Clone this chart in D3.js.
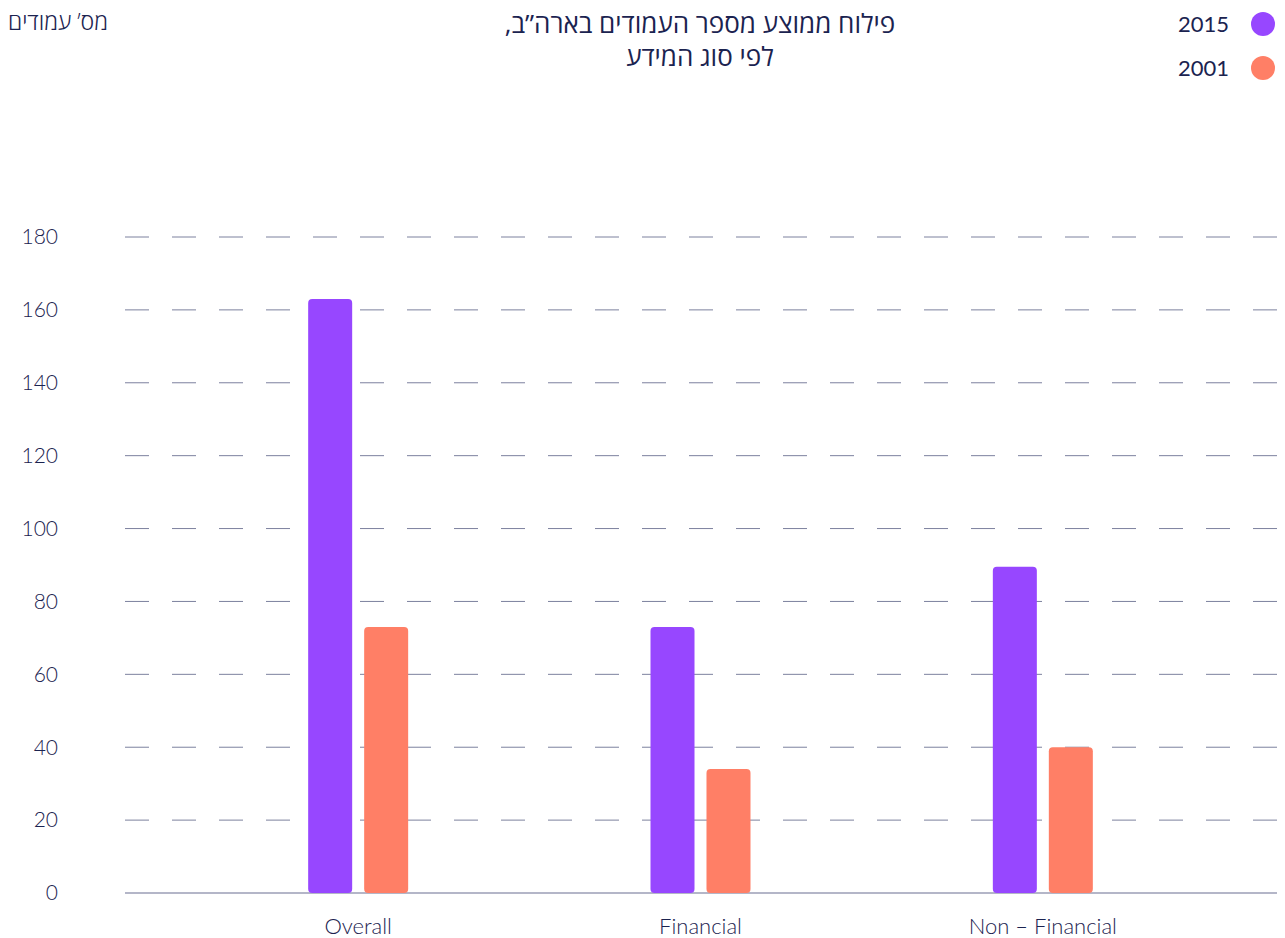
<!DOCTYPE html>
<html>
<head>
<meta charset="utf-8">
<script src="https://cdn.jsdelivr.net/npm/d3@7"></script>
<style>
  body { margin: 0; background: #fff; }
  text { font-family: Lato, "Open Sans", sans-serif; fill: #1b2350; }
</style>
</head>
<body>
<div id="viz"></div>
<script>
const categories = ['Overall', 'Financial', 'Non – Financial'];
const seriesNames = ['2015', '2001'];
const values2015 = [163, 73, 89.5];
const values2001 = [73, 34, 40];
const yTicks = [0, 20, 40, 60, 80, 100, 120, 140, 160, 180];

const colours = { 2015: '#9747ff', 2001: '#ff7f66' };

const width = 1285;
const height = 938;

const svg = d3.select('#viz')
  .append('svg')
  .attr('width', width)
  .attr('height', height);

const y = d3.scaleLinear().domain([0, 180]).range([893, 237]);
const x0 = d3.scaleBand().domain(categories).range([187, 1214]);
const x1 = d3.scaleBand()
  .domain(seriesNames)
  .range([x0.bandwidth() / 2 - 50, x0.bandwidth() / 2 + 50])
  .paddingInner(0.214);

// dashed grid lines
svg.append('g')
  .selectAll('line')
  .data(yTicks.filter(d => d > 0))
  .enter()
  .append('line')
  .attr('x1', 125)
  .attr('x2', 1277)
  .attr('y1', d => y(d))
  .attr('y2', d => y(d))
  .attr('stroke', '#7c819e')
  .attr('stroke-width', 1)
  .attr('stroke-dasharray', '24 23');

// baseline
svg.append('line')
  .attr('x1', 125)
  .attr('x2', 1277)
  .attr('y1', y(0))
  .attr('y2', y(0))
  .attr('stroke', '#b4b6c8')
  .attr('stroke-width', 2);

// y tick labels
svg.append('g')
  .selectAll('text')
  .data(yTicks)
  .enter()
  .append('text')
  .attr('x', 58)
  .attr('y', d => y(d))
  .attr('dy', '0.35em')
  .attr('text-anchor', 'end')
  .style('font-size', '21px')
  .style('font-weight', 300)
  .text(d => d);

// bars
const rows = categories.map((c, i) => ({ category: c, values: { 2015: values2015[i], 2001: values2001[i] } }));

const groups = svg.append('g')
  .selectAll('g')
  .data(rows)
  .enter()
  .append('g')
  .attr('transform', d => `translate(${x0(d.category)},0)`);

groups.selectAll('rect')
  .data(d => seriesNames.map(s => ({ series: s, value: d.values[s] })))
  .enter()
  .append('rect')
  .attr('x', d => x1(d.series))
  .attr('width', x1.bandwidth())
  .attr('y', d => y(d.value))
  .attr('height', d => y(0) - y(d.value))
  .attr('rx', 4)
  .attr('fill', d => colours[d.series]);

// x labels
svg.append('g')
  .selectAll('text')
  .data(categories)
  .enter()
  .append('text')
  .attr('x', d => x0(d) + x0.bandwidth() / 2)
  .attr('y', 926)
  .attr('dy', '0.35em')
  .attr('text-anchor', 'middle')
  .style('font-size', '22px')
  .style('font-weight', 300)
  .text(d => d);

// title
const title = svg.append('text')
  .attr('x', 700)
  .attr('text-anchor', 'middle')
  .attr('direction', 'rtl')
  .style('font-family', '"Open Sans", "Noto Sans", sans-serif')
  .style('font-size', '26px');
title.append('tspan').attr('x', 700).attr('y', 33).text('פילוח ממוצע מספר העמודים בארה”ב,');
title.append('tspan').attr('x', 700).attr('y', 66).text('לפי סוג המידע');

// y axis label
svg.append('text')
  .attr('x', 108)
  .attr('y', 30)
  .attr('text-anchor', 'start')
  .attr('direction', 'rtl')
  .style('font-family', '"Open Sans", "Noto Sans", sans-serif')
  .style('font-size', '23px')
  .style('font-weight', 300)
  .text('מס’ עמודים');

// legend
const legend = svg.append('g')
  .selectAll('g')
  .data(seriesNames)
  .enter()
  .append('g')
  .attr('transform', (d, i) => `translate(0, ${24 + i * 44})`);

legend.append('circle')
  .attr('cx', 1263)
  .attr('cy', 0)
  .attr('r', 12)
  .attr('fill', d => colours[d]);

legend.append('text')
  .attr('x', 1229)
  .attr('y', 0)
  .attr('dy', '0.35em')
  .attr('text-anchor', 'end')
  .style('font-size', '22px')
  .text(d => d);
</script>
</body>
</html>
